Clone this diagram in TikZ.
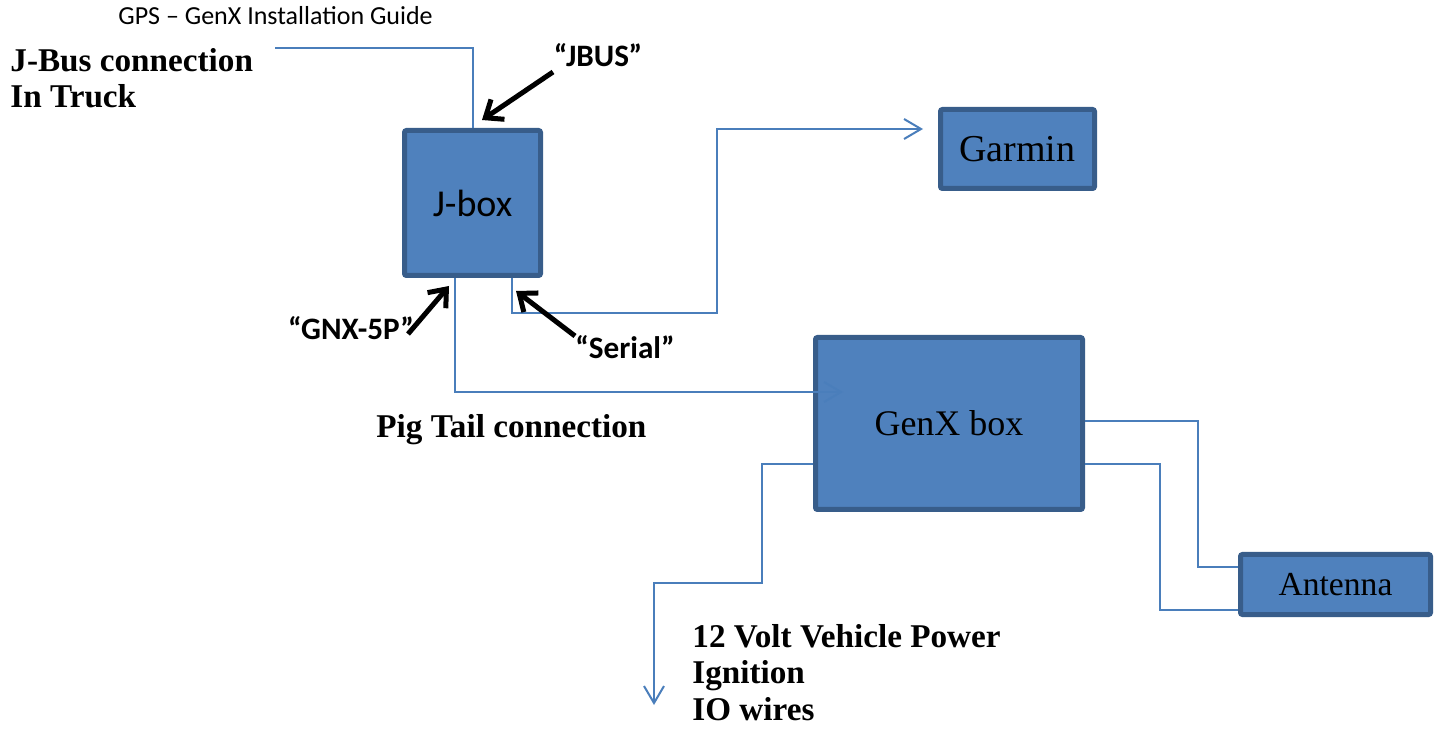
\documentclass[tikz,border=0pt]{standalone}
\usepackage{fontspec}
\setmainfont{Liberation Serif}
\newfontfamily\calib{Carlito}
\usetikzlibrary{arrows.meta}
\definecolor{boxfill}{HTML}{4F81BD}
\definecolor{boxline}{HTML}{385D8A}
\definecolor{wirecol}{HTML}{4A7EBB}
\tikzset{
  blockbox/.style={draw=boxline, fill=boxfill, line width=2.5pt, rounded corners=1pt, inner sep=0pt},
  wire/.style={draw=wirecol, line width=1pt},
  wirearrow/.style={wire, -{Straight Barb[length=8.5pt,width=10pt]}},
  callout/.style={draw=black, line width=2.5pt, -{Straight Barb[length=7.5pt,width=12pt]}},
  boldlabel/.style={font=\fontsize{16.6}{18.5}\bfseries\selectfont, inner sep=0pt, anchor=base west},
  quotelabel/.style={font=\calib\fontsize{15.6}{18}\bfseries\selectfont, inner sep=0pt, anchor=base},
}
\begin{document}
\begin{tikzpicture}[x=0.5pt, y=-0.5pt]
\useasboundingbox (0,0) rectangle (1441,732);

% title
\node[font=\calib\fontsize{13}{15}\selectfont, inner sep=0pt, anchor=base west] (title) at (118,25) {GPS – GenX Installation Guide};

% boxes
\node[blockbox, minimum width=68pt, minimum height=72.5pt, font=\calib\fontsize{19}{22}\selectfont] (jbox) at (472.5,203) {\raisebox{-1pt}{J-box}};
\node[blockbox, minimum width=77pt, minimum height=39.5pt, font=\fontsize{19}{22}\selectfont] (garmin) at (1017.5,149) {\raisebox{-1pt}{Garmin}};
\node[blockbox, minimum width=133.5pt, minimum height=86pt, font=\fontsize{18}{21}\selectfont] (genx) at (949,423.5) {\raisebox{-1pt}{GenX box}};
\node[blockbox, minimum width=95pt, minimum height=30pt, font=\fontsize{16.8}{20}\selectfont] (antenna) at (1335.5,584.5) {\raisebox{-1.5pt}{Antenna}};

% text labels
\node[boldlabel] (jbus1) at (10,72) {J-Bus connection};
\node[boldlabel] (jbus2) at (10,108) {In Truck};
\node[boldlabel] (pig) at (376,438) {Pig Tail connection};
\node[boldlabel] (pw1) at (692,647) {12 Volt Vehicle Power};
\node[boldlabel] (pw2) at (692,683) {Ignition};
\node[boldlabel] (pw3) at (692,720) {IO wires};

\node[quotelabel] (qjbus) at (598,67) {“JBUS”};
\node[quotelabel] (qgnx) at (351,340) {“GNX-5P”};
\node[quotelabel] (qser) at (625,359) {“Serial”};

% coordinates
\coordinate (jbusStart) at (275,48);
\coordinate (serX) at (512,0);
\coordinate (serTip) at (923,129);
\coordinate (pigX) at (455,0);
\coordinate (pigTip) at (843,392);
\coordinate (ioY) at (0,464);
\coordinate (ioTip) at (654,705);
\coordinate (ant1Y) at (0,421);
\coordinate (ant2Y) at (0,464);
\coordinate (ant1In) at (0,567);
\coordinate (ant2In) at (0,610);

% wires
\draw[wire] (jbusStart) -| (jbox.north);
\draw[wirearrow] (jbox.south -| serX) -- (512,313) -- (717,313) -- (717,129) -- (serTip);
\draw[wirearrow] (jbox.south -| pigX) -- (455,392) -- (pigTip);
\draw[wirearrow] (genx.west |- ioY) -- (762,464) -- (762,583) -- (654,583) -- (ioTip);
\draw[wire] (genx.east |- ant1Y) -- (1198,421) -- (1198,567) -- (antenna.west |- ant1In);
\draw[wire] (genx.east |- ant2Y) -- (1160,464) -- (1160,610) -- (antenna.west |- ant2In);

% callout arrows
\coordinate (jbusTail) at (553,72);
\coordinate (jbusHead) at (482,120);
\coordinate (gnxTail) at (408,334);
\coordinate (gnxHead) at (449,286);
\coordinate (serTail) at (575,336);
\coordinate (serHead) at (516,291);
\draw[callout] (jbusTail) -- (jbusHead);
\draw[callout] (gnxTail) -- (gnxHead);
\draw[callout] (serTail) -- (serHead);
\end{tikzpicture}
\end{document}
